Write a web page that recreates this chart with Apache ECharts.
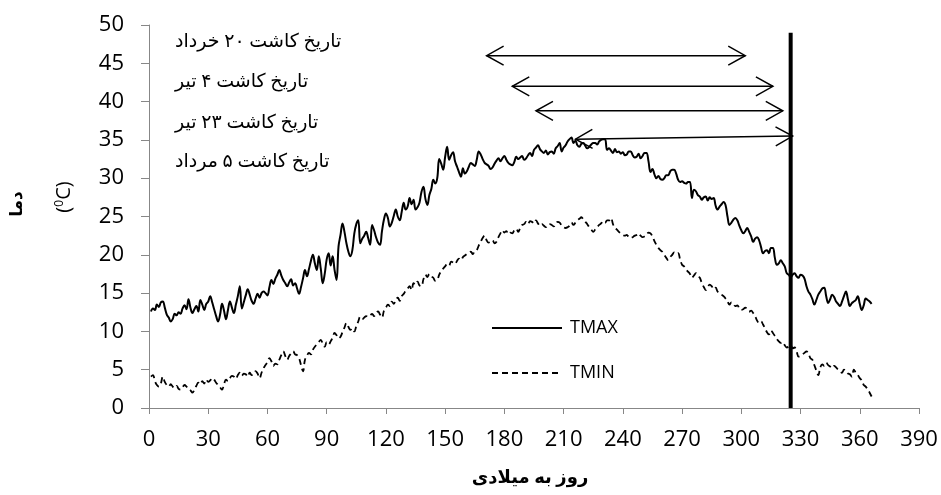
<!DOCTYPE html>
<html>
<head>
<meta charset="utf-8">
<script src="https://cdn.jsdelivr.net/npm/echarts@6/dist/echarts.min.js"></script>
<style>
html,body{margin:0;padding:0;background:#fff;}
#chart{width:941px;height:495px;}
</style>
</head>
<body>
<div id="chart"></div>
<script>
// ---- data ----
const xTicks = [0,30,60,90,120,150,180,210,240,270,300,330,360,390];
const yTicks = [0,5,10,15,20,25,30,35,40,45,50];

const TMAX = [
12.6,13.0,12.8,13.5,13.2,13.8,13.9,13.1,12.2,11.8,
11.3,11.6,12.3,12.1,12.5,12.3,13.0,13.4,12.9,14.2,
13.1,12.4,12.9,13.3,12.6,14.1,13.5,12.8,13.6,13.9,
14.6,13.8,12.9,12.0,11.3,12.2,13.6,12.7,11.6,12.8,
13.9,13.1,12.4,13.5,14.6,15.9,13.0,13.8,14.7,15.5,
14.8,14.0,13.6,14.3,14.9,14.4,15.0,15.2,15.0,14.7,
15.8,16.7,16.2,16.9,17.4,18.0,17.3,16.7,16.3,15.9,
16.4,16.8,16.0,16.3,15.6,14.9,15.8,16.9,18.0,17.2,
18.1,19.2,20.0,18.9,18.0,19.8,18.2,16.3,17.5,19.4,
20.2,18.6,19.8,18.0,16.7,21.1,22.6,24.1,23.0,21.5,
20.4,19.8,20.6,22.8,24.0,24.5,21.5,22.1,22.5,23.0,
22.2,21.3,23.9,23.2,22.3,21.6,21.3,23.1,24.6,25.4,
24.8,23.7,24.2,25.1,25.9,25.0,24.5,25.6,26.8,25.9,
26.3,27.4,26.6,27.2,25.9,26.2,26.8,28.2,28.9,27.3,
26.5,27.8,28.6,29.8,29.3,30.0,32.5,31.9,31.1,32.8,
34.1,32.4,33.0,33.4,32.2,31.5,30.8,30.2,31.3,30.6,
30.9,31.5,32.0,31.8,31.6,32.4,33.5,33.1,32.5,32.0,
31.8,31.6,31.2,31.4,31.9,32.3,32.6,32.2,32.6,32.9,
32.4,32.0,31.8,31.7,32.1,32.8,32.5,32.7,32.9,32.4,
32.6,33.0,33.3,32.9,33.7,34.0,34.3,33.8,33.5,33.3,
33.6,33.1,33.4,33.5,33.2,33.9,34.2,34.6,33.5,34.0,
34.3,34.8,35.1,35.3,34.6,34.9,34.3,34.1,34.5,34.6,
34.2,33.9,34.1,34.4,34.6,34.6,34.4,34.8,35.0,35.1,
35.1,33.7,33.9,33.6,33.3,33.8,33.4,33.5,33.2,33.4,
33.0,33.1,33.5,33.5,33.0,32.7,32.8,33.2,32.6,32.9,
33.3,33.3,32.2,30.8,31.2,30.5,30.0,30.3,29.9,29.8,
30.0,30.4,30.4,30.9,31.1,31.1,30.6,29.8,29.5,29.6,
29.4,29.3,29.5,29.5,27.4,28.5,28.3,27.8,27.6,27.2,
27.5,27.6,27.1,27.5,27.3,27.4,26.4,25.9,26.3,26.6,
26.9,26.5,25.0,23.9,24.2,24.6,24.8,24.5,23.8,23.2,
22.8,23.1,23.5,23.0,22.4,21.7,22.1,22.3,21.9,21.0,
20.2,20.5,20.6,20.2,20.9,20.9,19.6,18.7,18.9,19.3,
18.9,18.5,17.6,17.4,17.1,17.4,17.6,17.2,17.0,17.4,
17.3,16.9,15.9,15.2,14.8,14.2,13.5,14.1,14.8,15.2,
15.6,15.7,14.6,13.7,14.2,14.8,14.5,13.9,13.6,13.3,
13.9,14.6,15.2,14.2,13.3,13.7,13.9,14.1,14.6,13.6,
12.8,13.4,14.3,14.1,13.9,13.6
];

const TMIN = [
4.1,4.3,3.5,3.0,2.8,3.2,4.1,3.4,3.0,2.8,
3.1,2.8,2.6,2.9,2.5,2.4,2.7,3.0,2.8,2.5,
2.3,2.0,2.4,2.9,3.3,3.1,3.5,3.2,3.7,3.4,
3.6,3.9,3.7,3.3,3.0,2.7,2.4,3.1,3.7,3.5,
3.9,4.2,4.1,3.8,4.3,4.6,4.2,4.5,4.4,4.1,
4.6,4.3,4.4,4.8,4.5,3.9,4.6,5.2,5.6,6.0,
6.5,6.1,5.5,5.8,5.7,6.3,6.9,7.4,6.8,6.3,
6.8,7.1,7.4,7.0,6.9,6.5,5.6,4.8,6.3,6.8,
7.2,7.0,7.6,8.0,8.3,8.6,8.9,8.4,8.0,8.6,
8.3,8.7,9.2,9.8,9.5,9.1,9.3,9.9,10.5,11.1,
10.6,10.2,10.4,10.0,10.7,11.3,11.9,11.6,11.8,12.0,
11.9,12.1,12.3,12.0,12.4,12.6,12.2,11.8,12.7,13.1,
13.5,13.3,13.9,13.6,14.1,14.4,14.0,14.6,14.9,15.3,
15.6,15.9,15.4,16.3,16.1,16.5,16.0,15.9,16.8,17.4,
17.1,17.5,17.2,17.0,16.6,16.7,17.4,17.9,18.2,18.5,
18.8,18.6,19.1,19.0,18.8,19.2,19.5,19.3,19.7,19.9,
20.1,20.3,20.4,20.1,20.5,20.6,21.2,21.7,22.2,22.5,
21.9,21.6,21.7,21.9,21.5,21.7,22.3,22.8,23.2,22.9,
23.1,22.7,22.9,22.8,23.2,23.4,23.0,23.5,23.9,24.0,
24.3,24.0,24.4,24.3,24.1,24.5,24.1,23.8,24.0,23.8,
23.6,23.9,24.0,23.9,23.7,24.1,24.3,24.2,23.8,23.6,
23.5,23.6,23.8,24.2,23.9,24.2,24.5,24.7,24.9,24.6,
24.3,24.0,23.6,23.3,23.0,23.3,23.6,23.9,24.1,24.4,
24.2,24.5,24.5,24.8,24.0,23.5,23.3,23.0,22.8,22.6,
22.5,22.6,22.3,22.2,22.3,22.5,22.6,22.8,22.5,22.3,
22.4,22.6,22.9,22.8,22.4,21.8,21.3,20.9,20.6,20.4,
20.0,19.6,19.3,19.7,20.0,20.3,20.1,20.2,19.4,18.7,
18.5,18.1,17.8,17.5,17.0,17.3,17.6,17.2,17.0,16.3,
15.8,15.4,15.8,16.1,15.9,15.5,15.7,15.2,15.0,14.8,
14.6,14.3,13.9,13.5,13.8,13.6,13.3,13.4,13.0,12.8,
12.9,13.1,12.9,12.6,12.7,12.4,12.0,11.4,11.1,11.3,
10.9,10.4,9.9,9.6,10.1,9.8,9.4,9.0,8.7,8.5,
8.6,8.2,7.9,8.0,8.2,7.8,7.9,7.4,6.7,6.8,
7.0,7.2,7.4,7.1,6.5,6.3,5.6,4.9,4.3,5.3,
5.7,5.5,5.9,5.6,5.4,5.2,5.5,5.3,5.0,4.8,
4.6,5.0,4.8,4.5,4.4,4.1,5.0,4.6,4.3,3.9,
3.6,3.0,2.8,2.4,2.0,1.5
];

// planting-period arrows (day from, day to, temperature at left, at right)
const arrowFrom   = [171, 184, 196, 216];
const arrowTo     = [302, 316, 321, 326];
const arrowYFrom  = [46.0, 42.0, 38.8, 35.1];
const arrowYTo    = [46.0, 42.0, 38.8, 35.5];

// harvest line
const harvestDay = 325;
const harvestTop = 49;

const plantingLabels = [
  'تاریخ کاشت ۲۰ خرداد',
  'تاریخ کاشت ۴ تیر',
  'تاریخ کاشت ۲۳ تیر',
  'تاریخ کاشت ۵ مرداد'
];

const xName = 'روز به میلادی';
const yName1 = 'دما';

// ---- chart ----
const days = TMAX.map((_, i) => i + 1);
const chart = echarts.init(document.getElementById('chart'));
const labelFont = '"Open Sans", "Noto Sans", sans-serif';
const faFont = '"Times New Roman", "Liberation Serif", "DejaVu Sans", serif';

function arrowItem(params, api) {
  const p1 = api.coord([api.value(0), api.value(2)]);
  const p2 = api.coord([api.value(1), api.value(3)]);
  const dx = p2[0] - p1[0], dy = p2[1] - p1[1];
  const len = Math.sqrt(dx*dx + dy*dy);
  const ux = dx/len, uy = dy/len;
  const back = 17, half = 9.5;
  function head(tip, sx, sy) {
    const bx = tip[0] + sx*back, by = tip[1] + sy*back;
    return [[bx - sy*half, by + sx*half], tip, [bx + sy*half, by - sx*half]];
  }
  const style = {stroke: '#000', lineWidth: 1.5, fill: null};
  return {
    type: 'group',
    children: [
      {type: 'line', shape: {x1: p1[0], y1: p1[1], x2: p2[0], y2: p2[1]}, style: style},
      {type: 'polyline', shape: {points: head(p1, ux, uy)}, style: style},
      {type: 'polyline', shape: {points: head(p2, -ux, -uy)}, style: style}
    ]
  };
}

const option = {
  animation: false,
  backgroundColor: '#fff',
  grid: {left: 149, right: 22, top: 25, bottom: 87},
  xAxis: {
    type: 'value', min: 0, max: 390, interval: 30,
    axisLine: {show: true, onZero: false, lineStyle: {color: '#878787', width: 1}},
    axisTick: {show: true, length: 6, lineStyle: {color: '#878787'}},
    splitLine: {show: false},
    axisLabel: {color: '#000', fontSize: 22, fontFamily: labelFont, margin: 21,
      formatter: v => xTicks.includes(v) ? String(v) : ''}
  },
  yAxis: {
    type: 'value', min: 0, max: 50, interval: 5,
    axisLine: {show: true, lineStyle: {color: '#878787', width: 1}},
    axisTick: {show: true, length: 8, lineStyle: {color: '#878787'}},
    splitLine: {show: false},
    axisLabel: {color: '#000', fontSize: 22, fontFamily: labelFont, margin: 25,
      formatter: v => yTicks.includes(v) ? String(v) : ''}
  },
  legend: {
    orient: 'vertical', left: 486, top: 314,
    itemWidth: 70, itemHeight: 14, itemGap: 27,
    itemStyle: {opacity: 0},
    textStyle: {color: '#000', fontSize: 18, fontFamily: labelFont, padding: [0, 0, 0, 3]},
    data: ['TMAX', 'TMIN']
  },
  series: [
    {
      name: 'TMAX', type: 'line', symbol: 'none', smooth: 0.4,
      data: days.map((d, i) => [d, TMAX[i]]),
      lineStyle: {color: '#000', width: 2},
      itemStyle: {color: '#000'}
    },
    {
      name: 'TMIN', type: 'line', symbol: 'none', smooth: 0.4,
      data: days.map((d, i) => [d, TMIN[i]]),
      lineStyle: {color: '#000', width: 1.8, type: [6, 4]},
      itemStyle: {color: '#000'}
    },
    {
      name: 'arrows', type: 'custom', renderItem: arrowItem, z: 5,
      data: arrowFrom.map((f, i) => [f, arrowTo[i], arrowYFrom[i], arrowYTo[i]]),
      encode: {x: [0, 1], y: [2, 3]}
    },
    {
      name: 'harvest', type: 'line', symbol: 'none', z: 6,
      data: [[harvestDay, 0], [harvestDay, harvestTop]],
      lineStyle: {color: '#000', width: 4}
    }
  ],
  graphic: [
    {type: 'text', x: 175, y: 42, style: {text: plantingLabels[0], font: '19px ' + faFont, fill: '#000', verticalAlign: 'middle'}},
    {type: 'text', x: 175, y: 82, style: {text: plantingLabels[1], font: '19px ' + faFont, fill: '#000', verticalAlign: 'middle'}},
    {type: 'text', x: 175, y: 123, style: {text: plantingLabels[2], font: '19px ' + faFont, fill: '#000', verticalAlign: 'middle'}},
    {type: 'text', x: 175, y: 162, style: {text: plantingLabels[3], font: '19px ' + faFont, fill: '#000', verticalAlign: 'middle'}},
    {type: 'text', x: 18, y: 204, rotation: Math.PI/2,
      style: {text: yName1, font: 'bold 17px ' + faFont, fill: '#000', align: 'center', verticalAlign: 'middle'}},
    {type: 'text', x: 64, y: 197, rotation: Math.PI/2,
      style: {text: '({s|0}C)', font: '20px ' + labelFont, fill: '#000', align: 'center', verticalAlign: 'middle',
        rich: {s: {fontSize: 12, fontFamily: labelFont, verticalAlign: 'top', padding: [0,0,8,0]}}}},
    {type: 'text', x: 530, y: 478,
      style: {text: xName, font: 'bold 18px ' + faFont, fill: '#000', align: 'center', verticalAlign: 'middle'}}
  ]
};
chart.setOption(option);
</script>
</body>
</html>
